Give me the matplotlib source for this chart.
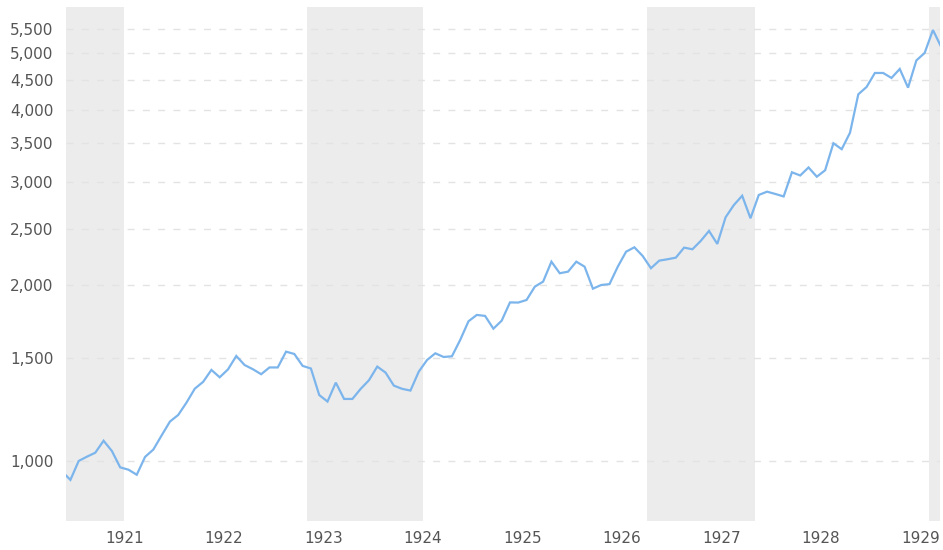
import matplotlib
matplotlib.use("Agg")
import matplotlib.pyplot as plt
from matplotlib.ticker import FixedLocator, FuncFormatter, NullLocator

# Monthly index values, May 1920 .. Mar 1929
start_year, start_month = 1920, 5
values = [
    959,
    928, 1000, 1017, 1033, 1083, 1040, 975,
    966, 947, 1016, 1046, 1106, 1168, 1199, 1259, 1330, 1366, 1432, 1391,
    1435, 1513, 1460, 1436, 1408, 1446, 1446, 1539, 1525, 1455, 1440, 1297,
    1264, 1362, 1277, 1277, 1329, 1375, 1451, 1417, 1346, 1329, 1320, 1422,
    1489, 1529, 1507, 1511, 1612, 1735, 1779, 1772, 1685, 1739, 1869, 1868,
    1887, 1989, 2029, 2195, 2097, 2110, 2195, 2152, 1973, 2002, 2009, 2152,
    2283, 2323, 2245, 2139, 2204, 2216, 2230, 2320, 2305, 2382, 2478, 2354,
    2615, 2745, 2847, 2605, 2856, 2893, 2867, 2839, 3123, 3084, 3183, 3069,
    3148, 3502, 3421, 3650, 4248, 4373, 4621, 4621, 4531, 4695, 4361, 4855,
    5001, 5475, 5120,
]

# Shaded periods (decimal years)
shade_start = [1920.0, 1922.833, 1926.25, 1929.083]
shade_end = [1921.0, 1924.0, 1927.333, 1929.6]

y_ticks = [1000, 1500, 2000, 2500, 3000, 3500, 4000, 4500, 5000, 5500]
x_ticks = [1921, 1922, 1923, 1924, 1925, 1926, 1927, 1928, 1929]

# decimal-year positions at mid-month
t = [start_year + (start_month - 1 + i + 0.5) / 12.0 for i in range(len(values))]

fig = plt.figure(figsize=(9.43, 5.5), dpi=100)
ax = fig.add_axes([66 / 943, 29 / 550, (940 - 66) / 943, (521 - 7) / 550])

for s, e in zip(shade_start, shade_end):
    ax.axvspan(s, e, color="#ececec", lw=0, zorder=0)

ax.plot(t, values, color="#7cb5ec", lw=1.6, zorder=3, solid_joinstyle="miter")

ax.set_yscale("log")
ax.set_ylim(789, 5995)
ax.set_xlim(1920.414, 1929.196)

ax.yaxis.set_major_locator(FixedLocator(y_ticks))
ax.yaxis.set_minor_locator(NullLocator())
ax.yaxis.set_major_formatter(FuncFormatter(lambda v, p: f"{int(round(v)):,}"))
ax.xaxis.set_major_locator(FixedLocator(x_ticks))
ax.xaxis.set_major_formatter(FuncFormatter(lambda v, p: f"{int(round(v))}"))

ax.grid(axis="y", color="#e3e3e3", lw=1.0, linestyle=(0, (5, 6)), zorder=1)
ax.grid(axis="x", visible=False)
ax.set_axisbelow(True)

for sp in ax.spines.values():
    sp.set_visible(False)

ax.tick_params(axis="both", length=0, labelsize=11, labelcolor="#555555")
ax.tick_params(axis="y", pad=9)
ax.tick_params(axis="x", pad=7)

fig.savefig("out.png", dpi=100, facecolor="white")
